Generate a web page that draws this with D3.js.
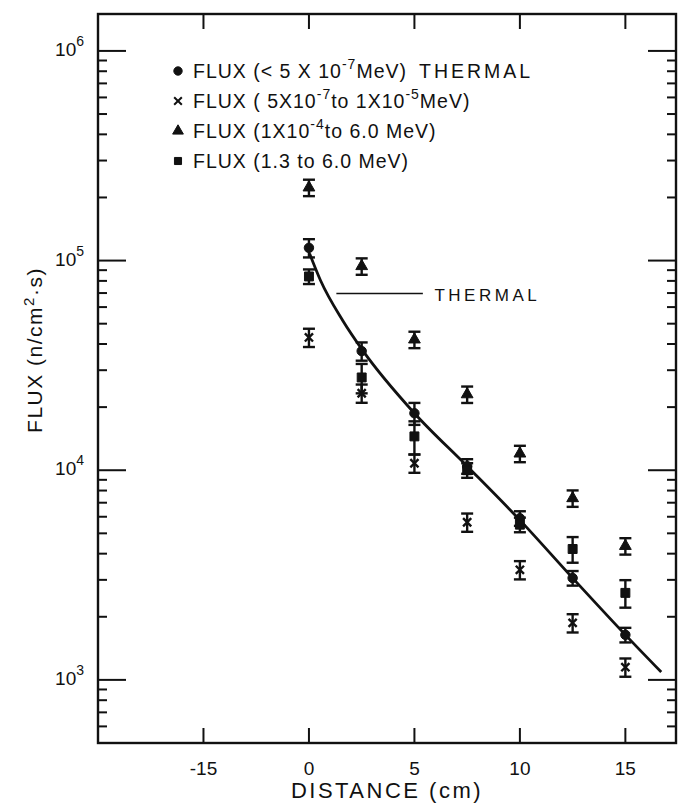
<!DOCTYPE html>
<html>
<head>
<meta charset="utf-8">
<script src="https://cdn.jsdelivr.net/npm/d3@7"></script>
<style>
  html, body { margin: 0; padding: 0; background: #fff; }
  svg text { font-family: "Liberation Sans", "DejaVu Sans", sans-serif; fill: #111; }
</style>
</head>
<body>
<svg id="chart" width="688" height="803"></svg>
<script>
// Measurement positions (cm)
const distances = [0, 2.5, 5, 7.5, 10, 12.5, 15];

// Flux per energy group (n/cm^2 s)
const thermalFlux = [1.15e5, 3.7e4, 1.87e4, 1.045e4, 5.9e3, 3.06e3, 1.64e3];
const epithermalFlux = [4.3e4, 2.33e4, 1.08e4, 5.65e3, 3.35e3, 1.87e3, 1.15e3];
const fastFlux = [2.23e5, 9.4e4, 4.2e4, 2.3e4, 1.2e4, 7.35e3, 4.35e3];
const highEnergyFlux = [8.4e4, 2.77e4, 1.45e4, 1.0e4, 5.5e3, 4.21e3, 2.6e3];

// Relative uncertainties (fraction of value)
const thermalErr = [0.1, 0.1, 0.12, 0.08, 0.08, 0.08, 0.08];
const epithermalErr = [0.1, 0.1, 0.1, 0.1, 0.1, 0.1, 0.1];
const fastErr = [0.09, 0.09, 0.09, 0.09, 0.09, 0.09, 0.09];
const highEnergyErr = [0.08, 0.16, 0.18, 0.08, 0.08, 0.14, 0.15];

// Fitted thermal flux curve
const curveDistance = [0.03, 0.55, 1.6, 2.58, 5, 7.5, 10, 12.5, 15, 16.7];
const curveFlux = [1.08e5, 8.03e4, 5.18e4, 3.69e4, 1.87e4, 1.045e4, 5.78e3, 3.06e3, 1.64e3, 1.09e3];

// Axis ticks
const xTickValues = [-5, 0, 5, 10, 15];
const xTickLabels = ["-15", "0", "5", "10", "15"];
const yMajorTicks = [1e3, 1e4, 1e5, 1e6];
const yTickExponents = ["3", "4", "5", "6"];

const svg = d3.select("#chart");
const frame = { left: 98, right: 676, top: 14, bottom: 743 };

const x = d3.scaleLinear().domain([-10, 17.4]).range([frame.left, frame.right]);
const y = d3.scaleLog().domain([500, 1.5e6]).range([frame.bottom, frame.top]);

// Minor log ticks
const yMinor = [];
[1e2, 1e3, 1e4, 1e5].forEach(dec => {
  for (let m = 2; m <= 9; m++) {
    const v = m * dec;
    if (v >= 500 && v <= 1.5e6 && v !== 1e6) yMinor.push(v);
  }
});

const g = svg.append("g");

// Frame
g.append("rect")
  .attr("x", frame.left).attr("y", frame.top)
  .attr("width", frame.right - frame.left).attr("height", frame.bottom - frame.top)
  .attr("fill", "none").attr("stroke", "#111").attr("stroke-width", 2.4);

// Ticks pointing inward on all four sides
const tickG = g.append("g").attr("stroke", "#111").attr("stroke-width", 2);
yMajorTicks.forEach(v => {
  tickG.append("line").attr("x1", frame.left).attr("x2", frame.left + 28).attr("y1", y(v)).attr("y2", y(v));
  tickG.append("line").attr("x1", frame.right).attr("x2", frame.right - 28).attr("y1", y(v)).attr("y2", y(v));
});
yMinor.forEach(v => {
  tickG.append("line").attr("x1", frame.left).attr("x2", frame.left + 9).attr("y1", y(v)).attr("y2", y(v));
  tickG.append("line").attr("x1", frame.right).attr("x2", frame.right - 9).attr("y1", y(v)).attr("y2", y(v));
});
xTickValues.forEach(v => {
  tickG.append("line").attr("x1", x(v)).attr("x2", x(v)).attr("y1", frame.bottom).attr("y2", frame.bottom - 15);
  tickG.append("line").attr("x1", x(v)).attr("x2", x(v)).attr("y1", frame.top).attr("y2", frame.top + 15);
});

// Y tick labels (powers of ten)
yMajorTicks.forEach((v, i) => {
  const t = g.append("text")
    .attr("x", 84).attr("y", y(v) + 5)
    .attr("text-anchor", "end")
    .attr("font-size", 19);
  t.append("tspan").text("10");
  t.append("tspan").attr("dy", -10).attr("font-size", 14).text(yTickExponents[i]);
});

// X tick labels
xTickValues.forEach((v, i) => {
  g.append("text")
    .attr("x", x(v)).attr("y", 775)
    .attr("text-anchor", "middle")
    .attr("font-size", 19)
    .text(xTickLabels[i]);
});

// Axis titles
g.append("text")
  .attr("x", (frame.left + frame.right) / 2).attr("y", 798)
  .attr("text-anchor", "middle")
  .attr("font-size", 22)
  .attr("letter-spacing", 2.5)
  .text("DISTANCE (cm)");

const yt = g.append("text")
  .attr("transform", "translate(42,350) rotate(-90)")
  .attr("text-anchor", "middle")
  .attr("font-size", 21)
  .attr("letter-spacing", 1.5);
yt.append("tspan").text("FLUX (n/cm");
yt.append("tspan").attr("dy", -8).attr("font-size", 15).text("2");
yt.append("tspan").attr("dy", 8).text("·s)");

// Fitted thermal curve
const line = d3.line()
  .x((d, i) => x(curveDistance[i]))
  .y(d => y(d))
  .curve(d3.curveMonotoneX);
g.append("path")
  .datum(curveFlux)
  .attr("d", line)
  .attr("fill", "none")
  .attr("stroke", "#111")
  .attr("stroke-width", 2.8);

// THERMAL annotation
g.append("line")
  .attr("x1", x(1.3)).attr("x2", x(5.4))
  .attr("y1", y(6.96e4)).attr("y2", y(6.96e4))
  .attr("stroke", "#111").attr("stroke-width", 1.5);
g.append("text")
  .attr("x", x(5.95)).attr("y", y(6.96e4) + 7)
  .attr("font-size", 17)
  .attr("letter-spacing", 3.5)
  .text("THERMAL");

// Data series with error bars
const series = [
  { values: thermalFlux, err: thermalErr, symbol: d3.symbolCircle, size: 70 },
  { values: epithermalFlux, err: epithermalErr, symbol: d3.symbolX, size: 45, stroke: true },
  { values: fastFlux, err: fastErr, symbol: d3.symbolTriangle, size: 60 },
  { values: highEnergyFlux, err: highEnergyErr, symbol: d3.symbolSquare, size: 80 }
];

series.forEach(s => {
  const sg = g.append("g");
  const pts = distances.map((d, i) => ({ d, v: s.values[i], e: s.err[i] }));
  const eb = sg.selectAll("g.eb").data(pts).join("g").attr("class", "eb")
    .attr("stroke", "#111").attr("stroke-width", 2.4);
  eb.append("line")
    .attr("x1", p => x(p.d)).attr("x2", p => x(p.d))
    .attr("y1", p => y(p.v * (1 + p.e))).attr("y2", p => y(p.v * (1 - p.e)));
  eb.append("line")
    .attr("x1", p => x(p.d) - 6).attr("x2", p => x(p.d) + 6)
    .attr("y1", p => y(p.v * (1 + p.e))).attr("y2", p => y(p.v * (1 + p.e)));
  eb.append("line")
    .attr("x1", p => x(p.d) - 6).attr("x2", p => x(p.d) + 6)
    .attr("y1", p => y(p.v * (1 - p.e))).attr("y2", p => y(p.v * (1 - p.e)));
  sg.selectAll("path.m").data(pts).join("path").attr("class", "m")
    .attr("transform", p => `translate(${x(p.d)},${y(p.v)})`)
    .attr("d", d3.symbol().type(s.symbol).size(s.size))
    .attr("fill", s.stroke ? "none" : "#111")
    .attr("stroke", "#111")
    .attr("stroke-width", s.stroke ? 2.4 : 1);
});

// Legend
const legendItems = [
  { symbol: d3.symbolCircle, size: 55, parts: [["FLUX (< 5 X 10", 0], ["-7", 1], ["MeV)", 0], ["THERMAL", 2]] },
  { symbol: d3.symbolX, size: 40, stroke: true, parts: [["FLUX ( 5X10", 0], ["-7", 1], ["to  1X10", 0], ["-5", 1], ["MeV)", 0]] },
  { symbol: d3.symbolTriangle, size: 50, parts: [["FLUX (1X10", 0], ["-4", 1], ["to 6.0 MeV)", 0]] },
  { symbol: d3.symbolSquare, size: 50, parts: [["FLUX (1.3 to 6.0 MeV)", 0]] }
];
const legendY = [71, 101, 131, 161];
legendItems.forEach((item, i) => {
  g.append("path")
    .attr("transform", `translate(178,${legendY[i]})`)
    .attr("d", d3.symbol().type(item.symbol).size(item.size))
    .attr("fill", item.stroke ? "none" : "#111")
    .attr("stroke", "#111")
    .attr("stroke-width", item.stroke ? 2 : 1);
  const t = g.append("text")
    .attr("x", 193).attr("y", legendY[i] + 7)
    .attr("font-size", 19.5)
    .attr("letter-spacing", 1);
  let raised = false;
  item.parts.forEach(([txt, kind]) => {
    const ts = t.append("tspan").text(txt);
    if (kind === 1) {
      ts.attr("font-size", 14);
      if (!raised) { ts.attr("dy", -9); raised = true; }
    } else {
      if (raised) { ts.attr("dy", 9); raised = false; }
      if (kind === 2) ts.attr("dx", 12).attr("letter-spacing", 3);
    }
  });
});
</script>
</body>
</html>
